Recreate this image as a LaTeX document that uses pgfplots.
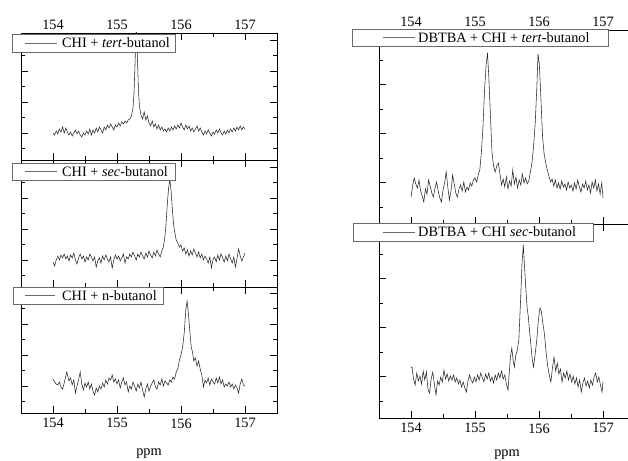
\documentclass[border=0pt]{standalone}
\usepackage{fontspec}
\setmainfont{Liberation Serif}
\usepackage{pgfplots}
\pgfplotsset{compat=1.18}

\definecolor{trace}{RGB}{40,40,40}
\definecolor{legframe}{RGB}{105,105,105}

\pgfplotsset{
  spec/.style={
    scale only axis, width=256pt,
    xmin=153.5, xmax=157.5, ymin=0,
    xtick={154,155,156,157},
    minor xtick={154.5,155.5,156.5},
    xtick pos=both, ytick pos=both,
    tick align=inside,
    major tick length=7pt, minor tick length=4pt,
    yticklabels={},
    axis line style={black, line width=0.9pt},
    every tick/.style={black, line width=0.7pt},
    tick label style={font=\fontsize{14.3}{16}\selectfont},
    xticklabel={\pgfmathprintnumber[assume math mode=true]{\tick}},
    xticklabel shift=2pt,
    label style={font=\fontsize{14.3}{16}\selectfont},
    xlabel style={yshift=-14pt},
  },
  toplabels/.style={xticklabel pos=upper, xticklabel shift=0pt},
  leftcol/.style={ytick={27,58,89,120}, minor ytick={11.5,42.5,73.5,104.5}},
  rightcol/.style={ytick={41.5,90.5,139.5,188.5}, minor ytick={17,66,115,164}},
  spectrum/.style={trace, line width=0.55pt, no markers},
}

\begin{document}
\begin{tikzpicture}

% ---------------- left column ----------------
\begin{axis}[spec, leftcol, at={(21pt,427pt)}, anchor=north west,
  height=127pt, ymax=127, toplabels]
\addplot[spectrum] table {
154.000 27
154.025 25
154.050 29
154.075 26
154.100 31
154.125 28
154.150 33
154.175 27
154.200 32
154.225 28
154.250 25
154.275 28
154.300 24
154.325 27
154.350 30
154.375 26
154.400 29
154.425 25
154.450 23
154.475 27
154.500 25
154.525 29
154.550 26
154.575 31
154.600 25
154.625 30
154.650 27
154.675 32
154.700 28
154.725 33
154.750 30
154.775 27
154.800 33
154.825 30
154.850 35
154.875 32
154.900 36
154.925 33
154.950 30
154.975 35
155.000 33
155.025 37
155.050 34
155.075 38
155.100 36
155.125 39
155.150 37
155.175 40
155.200 41
155.225 44
155.250 52
155.265 66
155.280 92
155.295 125
155.305 132
155.320 100
155.335 70
155.350 54
155.375 45
155.400 41
155.425 48
155.450 40
155.475 44
155.500 37
155.525 34
155.550 39
155.575 33
155.600 36
155.625 31
155.650 35
155.675 30
155.700 33
155.725 29
155.750 31
155.775 28
155.800 32
155.825 29
155.850 33
155.875 30
155.900 34
155.925 31
155.950 35
155.975 32
156.000 37
156.025 33
156.050 30
156.075 35
156.100 31
156.125 34
156.150 29
156.175 32
156.200 28
156.225 31
156.250 34
156.275 29
156.300 32
156.325 28
156.350 25
156.375 29
156.400 26
156.425 30
156.450 27
156.475 24
156.500 28
156.525 26
156.550 30
156.575 27
156.600 31
156.625 27
156.650 25
156.675 29
156.700 26
156.725 30
156.750 27
156.775 31
156.800 28
156.825 32
156.850 29
156.875 33
156.900 30
156.925 34
156.950 30
156.975 33
157.000 31
};
\end{axis}

\begin{axis}[spec, leftcol, at={(21pt,300pt)}, anchor=north west,
  height=127pt, ymax=127, xticklabels={}]
\addplot[spectrum] table {
154.000 25
154.025 21
154.050 27
154.075 31
154.100 27
154.125 32
154.150 29
154.175 33
154.200 28
154.225 31
154.250 26
154.275 32
154.300 29
154.325 34
154.350 27
154.375 23
154.400 29
154.425 33
154.450 28
154.475 31
154.500 25
154.525 30
154.550 27
154.575 33
154.600 30
154.625 26
154.650 30
154.675 20
154.700 26
154.725 29
154.750 24
154.775 31
154.800 27
154.825 32
154.850 28
154.875 25
154.900 30
154.925 19
154.950 27
154.975 32
155.000 28
155.025 31
155.050 26
155.075 29
155.100 33
155.125 24
155.150 30
155.175 28
155.200 33
155.225 30
155.250 35
155.275 31
155.300 27
155.325 33
155.350 30
155.375 35
155.400 31
155.425 28
155.450 34
155.475 30
155.500 36
155.525 32
155.550 29
155.575 35
155.600 31
155.625 37
155.650 33
155.675 30
155.700 36
155.720 39
155.745 48
155.765 62
155.785 82
155.805 98
155.825 108
155.845 96
155.865 78
155.885 62
155.905 54
155.925 47
155.950 44
155.975 40
156.000 42
156.025 36
156.050 39
156.075 33
156.100 37
156.125 31
156.150 36
156.175 32
156.200 38
156.225 34
156.250 30
156.275 35
156.300 29
156.325 33
156.350 27
156.375 31
156.400 28
156.425 24
156.450 30
156.475 19
156.500 27
156.525 30
156.550 25
156.575 32
156.600 27
156.625 33
156.650 29
156.675 25
156.700 31
156.725 26
156.750 33
156.775 28
156.800 24
156.825 30
156.850 20
156.875 28
156.900 38
156.925 31
156.950 26
156.975 30
157.000 34
};
\end{axis}

\begin{axis}[spec, leftcol, at={(21pt,173pt)}, anchor=north west,
  height=126pt, ymax=126, xticklabel pos=lower, xlabel={ppm}]
\addplot[spectrum] table {
154.000 34
154.025 31
154.050 29
154.075 28
154.100 31
154.125 26
154.150 24
154.175 30
154.200 37
154.215 41
154.250 32
154.275 35
154.300 28
154.325 33
154.350 20
154.375 27
154.400 33
154.425 41
154.450 29
154.475 23
154.500 30
154.525 26
154.550 31
154.575 24
154.600 29
154.625 22
154.650 18
154.675 25
154.700 21
154.725 27
154.750 24
154.775 30
154.800 26
154.825 33
154.850 29
154.875 35
154.900 33
154.925 38
154.950 31
154.975 34
155.000 29
155.025 33
155.050 25
155.075 31
155.100 35
155.125 28
155.150 31
155.175 21
155.200 27
155.225 24
155.250 31
155.275 27
155.300 22
155.325 29
155.350 25
155.375 31
155.400 23
155.425 16
155.450 24
155.475 29
155.500 22
155.525 27
155.550 30
155.575 33
155.600 26
155.625 24
155.650 31
155.675 28
155.700 34
155.725 27
155.750 32
155.775 30
155.800 28
155.825 33
155.850 31
155.875 36
155.900 34
155.925 41
155.950 44
155.975 53
156.000 58
156.025 66
156.050 80
156.075 103
156.095 112
156.115 100
156.140 80
156.160 66
156.180 61
156.200 52
156.225 55
156.250 47
156.275 52
156.300 44
156.325 38
156.350 26
156.375 33
156.400 30
156.425 35
156.450 28
156.475 34
156.500 31
156.525 29
156.550 35
156.575 30
156.600 36
156.625 29
156.650 33
156.675 26
156.700 29
156.725 27
156.750 31
156.775 26
156.800 29
156.825 24
156.850 28
156.875 25
156.900 20
156.925 29
156.950 34
156.975 28
157.000 27
};
\end{axis}

% ---------------- right column ----------------
\begin{axis}[spec, rightcol, at={(379pt,430pt)}, anchor=north west,
  height=194pt, ymax=194, toplabels]
\addplot[spectrum] table {
154.000 27
154.025 38
154.050 46
154.075 40
154.100 36
154.125 44
154.150 33
154.175 28
154.200 22
154.225 35
154.250 30
154.275 44
154.300 38
154.325 31
154.350 27
154.375 36
154.400 42
154.425 33
154.450 26
154.475 22
154.500 34
154.525 41
154.550 52
154.575 37
154.600 24
154.625 33
154.650 49
154.675 40
154.700 31
154.725 27
154.750 35
154.775 39
154.800 33
154.825 42
154.850 32
154.875 37
154.900 34
154.925 41
154.950 38
154.975 44
155.000 46
155.025 42
155.050 49
155.075 54
155.100 72
155.125 98
155.150 135
155.175 160
155.195 171
155.215 148
155.240 110
155.265 72
155.290 58
155.315 52
155.340 58
155.365 61
155.390 50
155.415 39
155.440 45
155.465 37
155.490 47
155.515 35
155.540 43
155.565 38
155.590 54
155.615 40
155.640 47
155.665 36
155.690 44
155.715 39
155.740 50
155.765 41
155.790 46
155.815 40
155.840 43
155.865 52
155.890 61
155.915 78
155.940 100
155.965 135
155.985 170
156.005 160
156.030 125
156.055 88
156.080 70
156.105 61
156.130 54
156.155 48
156.180 42
156.205 45
156.230 38
156.255 44
156.280 36
156.305 41
156.330 35
156.355 43
156.380 37
156.405 40
156.430 34
156.455 42
156.480 36
156.505 39
156.530 33
156.555 41
156.580 35
156.605 44
156.630 37
156.655 32
156.680 40
156.705 36
156.730 43
156.755 34
156.780 39
156.805 31
156.830 42
156.855 36
156.880 44
156.905 33
156.930 40
156.955 30
156.980 41
157.000 26
};
\end{axis}

\begin{axis}[spec, rightcol, at={(379pt,236pt)}, anchor=north west,
  height=194pt, ymax=194, xticklabel pos=lower, xlabel={ppm},
  xlabel style={yshift=4pt}]
\addplot[spectrum] table {
154.000 50
154.015 51
154.040 39
154.065 33
154.090 45
154.115 37
154.140 42
154.165 34
154.190 47
154.215 38
154.240 46
154.265 29
154.290 25
154.315 39
154.340 46
154.365 34
154.390 23
154.415 37
154.440 33
154.465 41
154.490 36
154.515 48
154.540 39
154.565 44
154.590 37
154.615 42
154.640 38
154.665 43
154.690 36
154.715 40
154.740 34
154.765 38
154.790 31
154.815 36
154.840 30
154.865 26
154.890 37
154.915 43
154.940 38
154.965 35
154.990 41
155.015 36
155.040 43
155.065 38
155.090 45
155.115 40
155.140 36
155.165 44
155.190 39
155.215 45
155.240 37
155.265 41
155.290 35
155.315 43
155.340 38
155.365 45
155.390 40
155.415 47
155.440 39
155.465 43
155.490 34
155.515 28
155.535 45
155.555 62
155.575 70
155.595 58
155.615 51
155.635 62
155.660 68
155.685 78
155.710 115
155.735 155
155.755 173
155.775 150
155.795 128
155.815 110
155.835 100
155.855 85
155.875 72
155.895 58
155.915 51
155.940 64
155.965 78
155.990 98
156.015 110
156.035 107
156.060 95
156.085 84
156.110 66
156.135 52
156.160 43
156.185 36
156.210 50
156.235 61
156.260 47
156.285 55
156.310 44
156.335 49
156.360 36
156.385 45
156.410 40
156.435 47
156.460 38
156.485 44
156.510 36
156.535 42
156.560 34
156.585 40
156.610 31
156.635 38
156.660 26
156.685 35
156.710 40
156.735 32
156.760 37
156.785 30
156.810 38
156.835 33
156.860 41
156.885 45
156.910 36
156.935 41
156.960 33
156.985 26
157.000 36
};
\end{axis}

% ---------------- legend boxes ----------------
\begin{scope}[every node/.style={font=\fontsize{14.3}{16}\selectfont, inner sep=0pt, anchor=west}]
  \draw[legframe, line width=0.8pt, fill=white] (12pt,426pt) rectangle (175pt,408pt);
  \draw[trace!70, line width=0.5pt] (25pt,417pt) -- (57pt,417pt);
  \node at (62pt,417pt) {CHI + \textit{tert}-butanol};

  \draw[legframe, line width=0.8pt, fill=white] (12pt,297pt) rectangle (175pt,280pt);
  \draw[trace!70, line width=0.5pt] (25pt,288.5pt) -- (57pt,288.5pt);
  \node at (62pt,288.5pt) {CHI + \textit{sec}-butanol};

  \draw[legframe, line width=0.8pt, fill=white] (13pt,173pt) rectangle (163pt,156pt);
  \draw[trace!70, line width=0.5pt] (25pt,164.5pt) -- (55pt,164.5pt);
  \node at (62pt,164.5pt) {CHI + n-butanol};

  \draw[legframe, line width=0.8pt, fill=white] (352pt,431pt) rectangle (608pt,414pt);
  \draw[trace!70, line width=0.5pt] (383pt,422.5pt) -- (415pt,422.5pt);
  \node at (418pt,422.5pt) {DBTBA + CHI + \textit{tert}-butanol};

  \draw[legframe, line width=0.8pt, fill=white] (353pt,237pt) rectangle (593pt,219pt);
  \draw[trace!70, line width=0.5pt] (383pt,228pt) -- (415pt,228pt);
  \node at (418pt,228pt) {DBTBA + CHI \textit{sec}-butanol};
\end{scope}

\pgfresetboundingbox
\path (0pt,0pt) rectangle (628pt,460pt);
\end{tikzpicture}
\end{document}
